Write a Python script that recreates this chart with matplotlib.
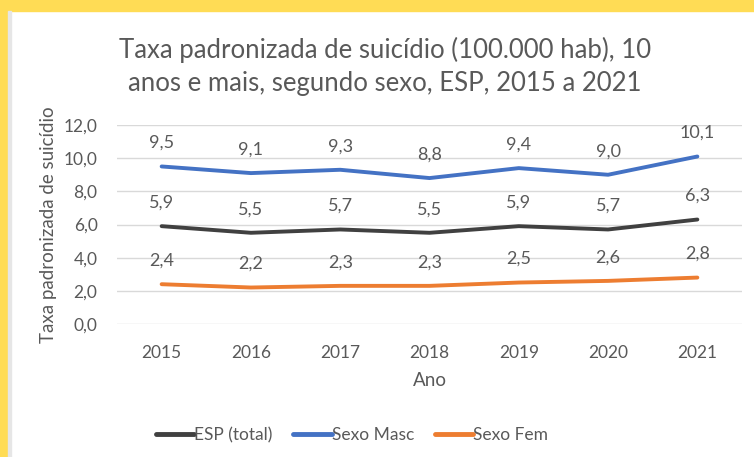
import matplotlib.pyplot as plt
from matplotlib.patches import Rectangle

plt.rcParams['font.family'] = ['Lato', 'DejaVu Sans']

anos = ['2015', '2016', '2017', '2018', '2019', '2020', '2021']
esp_total = [5.9, 5.5, 5.7, 5.5, 5.9, 5.7, 6.3]
sexo_masc = [9.5, 9.1, 9.3, 8.8, 9.4, 9.0, 10.1]
sexo_fem = [2.4, 2.2, 2.3, 2.3, 2.5, 2.6, 2.8]
y_ticks = [0, 2, 4, 6, 8, 10, 12]

series = [
    ('ESP (total)', esp_total, '#404040'),
    ('Sexo Masc', sexo_masc, '#4472C4'),
    ('Sexo Fem', sexo_fem, '#ED7D31'),
]

txt = '#595959'

fig = plt.figure(figsize=(7.54, 4.57), dpi=100)
fig.patch.set_facecolor('white')
# yellow frame (top and left)
fig.add_artist(Rectangle((0, 1 - 11 / 457), 1, 11 / 457, transform=fig.transFigure,
                         color='#FFDC55', zorder=-1))
fig.add_artist(Rectangle((0, 0), 8 / 754, 1, transform=fig.transFigure,
                         color='#FFDC55', zorder=-1))
fig.add_artist(Rectangle((8 / 754, 0), 3 / 754, 1 - 11 / 457, transform=fig.transFigure,
                         color='#E6E6E6', zorder=-1))

ax = fig.add_axes([117 / 754, 133 / 457, 625 / 754, 199 / 457])

x = list(range(len(anos)))
for name, vals, c in series:
    ax.plot(x, vals, color=c, linewidth=2.8, solid_capstyle='round', label=name)
    for xi, v in zip(x, vals):
        ax.annotate(f'{v:.1f}'.replace('.', ','), (xi, v), xytext=(0, 17),
                    textcoords='offset points', ha='center', va='center',
                    fontsize=13, color=txt)

ax.set_xlim(-0.5, len(anos) - 0.5)
ax.set_ylim(0, 12)
ax.set_yticks(y_ticks)
ax.set_yticklabels([f'{t:.1f}'.replace('.', ',') for t in y_ticks])
ax.set_xticks(x)
ax.set_xticklabels(anos)
ax.tick_params(length=0, labelsize=12.5, colors=txt)
ax.tick_params(axis='x', pad=15)
ax.tick_params(axis='y', pad=14)
ax.grid(axis='y', color='#D9D9D9', linewidth=1)
ax.set_axisbelow(True)
for s in ax.spines.values():
    s.set_visible(False)

ax.set_xlabel('Ano', fontsize=13.5, color=txt, labelpad=8)
ax.set_ylabel('Taxa padronizada de suicídio', fontsize=13.5, color=txt, labelpad=5)

fig.text(385 / 754, 1 - 66 / 457,
         'Taxa padronizada de suicídio (100.000 hab), 10\nanos e mais, segundo sexo, ESP, 2015 a 2021',
         ha='center', va='center', fontsize=18.5, color=txt, linespacing=1.4)

leg = fig.legend(loc='center', bbox_to_anchor=(352 / 754, 1 - 435 / 457), ncol=3,
                 frameon=False, fontsize=12.5, labelcolor=txt, handlelength=2.2,
                 handletextpad=0.0, columnspacing=1.2)
for h in leg.get_lines():
    h.set_linewidth(3.5)

fig.savefig('out.png', dpi=100)
